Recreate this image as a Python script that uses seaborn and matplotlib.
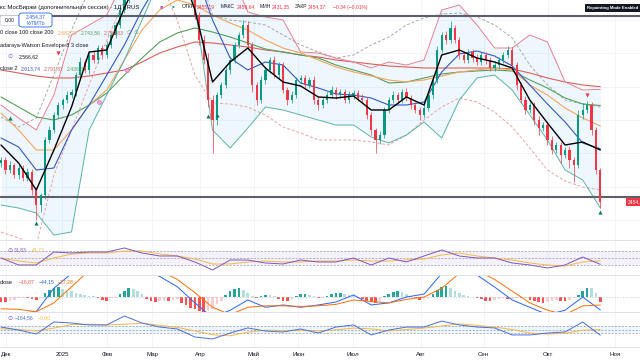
import numpy as np
import matplotlib
matplotlib.use('Agg')
import matplotlib.pyplot as plt
from matplotlib.patches import FancyBboxPatch, Rectangle
import seaborn as sns

# ============================================================
# DATA (~2 trading days per bar)
# ============================================================

MONTHS = ['Дек', '2025', 'Фев', 'Мар', 'Апр', 'Май', 'Июн', 'Июл', 'Авг', 'Сен', 'Окт', 'Ноя']
MONTH_BARS = [1.1, 13.9, 24.1, 34.3, 45.2, 57.3, 67.5, 79.8, 95.2, 109.5, 124.1, 139.3]

first_open = 2570
closes = [2580, 2550, 2565, 2535, 2556, 2526, 2544, 2490, 2445, 2475,
          2640, 2670, 2715, 2745, 2760, 2775, 2784, 2835, 2874, 2850,
          2895, 2880, 2916, 2895, 2925, 2955, 2985, 3030, 3060, 3120,
          3180, 3240, 3270, 3240, 3300, 3270, 3240, 3255, 3210, 3240,
          3180, 3210, 3150, 3105, 3015, 2940, 2880, 2760, 2700, 2775,
          2805, 2850, 2880, 2925, 2955, 2985, 2925, 2805, 2760, 2820,
          2850, 2880, 2835, 2865, 2790, 2760, 2775, 2820, 2826, 2805,
          2820, 2760, 2745, 2760, 2775, 2790, 2775, 2784, 2760, 2775,
          2781, 2766, 2760, 2715, 2670, 2640, 2655, 2730, 2760, 2775,
          2760, 2784, 2766, 2745, 2730, 2715, 2736, 2775, 2820, 2910,
          2955, 2940, 2976, 2940, 2895, 2880, 2904, 2886, 2874, 2895,
          2880, 2856, 2865, 2880, 2895, 2910, 2865, 2805, 2760, 2730,
          2745, 2700, 2676, 2685, 2640, 2610, 2625, 2595, 2610, 2580,
          2565, 2715, 2730, 2745, 2670, 2550, 2454.37]
wick_up = [10, 8, 12, 6, 10, 8, 12, 10, 8, 6,
           10, 12, 8, 10, 6, 12, 8, 10, 14, 8,
           10, 12, 8, 10, 12, 8, 10, 12, 10, 10,
           10, 10, 10, 10, 10, 10, 10, 10, 10, 10,
           10, 10, 10, 10, 12, 10, 15, 20, 15, 10,
           8, 10, 12, 8, 10, 15, 12, 10, 8, 12,
           10, 8, 12, 10, 8, 10, 12, 8, 10, 8,
           10, 12, 8, 10, 8, 12, 10, 8, 10, 12,
           8, 10, 12, 8, 10, 6, 12, 8, 10, 12,
           8, 10, 12, 8, 10, 8, 12, 10, 8, 12,
           10, 12, 20, 10, 8, 12, 10, 8, 12, 10,
           8, 10, 12, 8, 10, 12, 8, 10, 8, 12,
           10, 8, 12, 10, 8, 12, 10, 8, 10, 12,
           8, 15, 20, 12, 8, 10, 6]
wick_dn = [10, 12, 8, 10, 12, 8, 10, 15, 45, 20,
           12, 8, 10, 8, 12, 10, 8, 12, 10, 8,
           12, 10, 8, 12, 10, 8, 10, 8, 10, 10,
           10, 10, 10, 10, 10, 10, 10, 10, 10, 10,
           10, 10, 10, 10, 12, 15, 12, 20, 100, 15,
           10, 8, 12, 10, 8, 10, 12, 20, 15, 10,
           12, 10, 8, 12, 10, 15, 8, 10, 12, 10,
           8, 12, 15, 10, 8, 10, 12, 8, 10, 8,
           12, 10, 8, 12, 15, 39, 12, 10, 8, 10,
           12, 8, 10, 12, 10, 15, 8, 10, 12, 8,
           10, 12, 8, 10, 12, 8, 10, 12, 8, 10,
           12, 8, 10, 12, 8, 10, 12, 15, 10, 12,
           8, 15, 20, 10, 15, 12, 10, 25, 10, 25,
           50, 10, 12, 8, 15, 12, 18]

# indicator lines, one value every 4 bars
fast_ma = [2625, 2571, 2490, 2610, 2739, 2904, 2910, 3036, 3150, 3180, 3180, 3030,
           2814, 2874, 2916, 2856, 2814, 2802, 2769, 2766, 2772, 2730, 2730, 2769,
           2745, 2895, 2910, 2886, 2874, 2856, 2760, 2691, 2625, 2634, 2610]
bb_basis = [2646, 2619, 2550, 2556, 2670, 2745, 2835, 2925, 3030, 3120, 3210, 3150,
            3000, 2886, 2850, 2874, 2865, 2811, 2796, 2778, 2775, 2766, 2745, 2745,
            2754, 2844, 2898, 2907, 2892, 2862, 2805, 2748, 2694, 2631, 2613.74]
bb_upper = [2745, 2706, 2670, 2775, 2955, 2985, 3015, 3120, 3210, 3300, 3300, 3210,
            3180, 3150, 3024, 3009, 3000, 2904, 2901, 2886, 2874, 2856, 2874, 2865,
            2880, 3030, 3045, 2985, 2916, 2916, 2955, 2934, 2814, 2790, 2791.87]
bb_lower = [2445, 2436, 2421, 2355, 2364, 2670, 2775, 2880, 3000, 3120, 3180, 3045,
            2670, 2616, 2676, 2739, 2730, 2715, 2700, 2685, 2685, 2649, 2631, 2655,
            2694, 2646, 2760, 2826, 2835, 2790, 2715, 2640, 2550, 2520, 2436.31]
nw_upper = [2709, 2679, 2706, 2835, 2970, 3090, 3240, 3240, 3240, 3240, 3240, 3180,
            3015, 3000, 2994, 2985, 2955, 2925, 2904, 2886, 2895, 2925, 2949, 2985,
            3006, 3018, 3021, 3009, 2985, 2946, 2865, 2805, 2760, 2748, 2739]
nw_lower = [2364, 2346, 2325, 2535, 2670, 2805, 2940, 3060, 3180, 3120, 3000, 2835,
            2751, 2748, 2739, 2715, 2679, 2661, 2640, 2640, 2640, 2634, 2625, 2655,
            2700, 2739, 2766, 2754, 2724, 2679, 2616, 2550, 2517, 2499, 2490]
ma50 = [2721, 2670, 2610, 2610, 2670, 2745, 2790, 2880, 2970, 3030, 3060, 3045,
        3015, 2991, 2970, 2940, 2916, 2901, 2880, 2859, 2844, 2832, 2820, 2814,
        2820, 2832, 2844, 2850, 2856, 2850, 2805, 2775, 2736, 2706, 2682.22]
ma100 = [2769, 2739, 2709, 2700, 2715, 2745, 2781, 2835, 2886, 2934, 2961, 2976,
         2964, 2949, 2931, 2913, 2904, 2895, 2886, 2865, 2850, 2835, 2811, 2814,
         2826, 2838, 2844, 2847, 2850, 2847, 2820, 2796, 2766, 2748, 2743.56]
ma200 = [2850, 2841, 2832, 2826, 2826, 2832, 2841, 2850, 2874, 2901, 2919, 2934,
         2931, 2925, 2919, 2910, 2904, 2895, 2889, 2880, 2874, 2868, 2862, 2859,
         2856, 2856, 2856, 2856, 2856, 2853, 2841, 2826, 2814, 2805, 2799.83]

level_lines = [3012, 2469]
buy_bars = [2, 8, 47, 49, 136]
buy_prices = [2706, 2390, 2712, 2715, 2425]
sell_bars = [13, 133]
sell_prices = [2901, 2775]
cross_bars = [22.3, 28.6]
cross_prices = [2754, 2850]

rsi = [50.0, 30.0, 30.0, 67.1, 64.3, 67.1, 67.1, 78.6, 64.3, 55.7, 55.7, 38.6,
       15.7, 44.3, 44.3, 35.7, 32.9, 44.3, 38.6, 38.6, 50.0, 30.0, 50.0, 38.6,
       55.7, 72.9, 55.7, 50.0, 50.0, 35.7, 30.0, 21.4, 30.0, 52.9, 31.83]
rsi_ma = [50.0, 41.4, 35.7, 50.0, 61.4, 64.3, 64.3, 70.0, 70.0, 61.4, 55.7, 47.1,
          32.9, 32.9, 38.6, 41.4, 38.6, 38.6, 41.4, 41.4, 44.3, 41.4, 41.4, 44.3,
          47.1, 58.6, 64.3, 55.7, 50.0, 44.3, 35.7, 30.0, 27.1, 38.6, 41.77]

macd = [-60, -55, -50, 30, 80, 100, 90, 100, 100, 70, 35, -20,
        -70, -45, -10, -35, -27, -35, -27, -17, 7, -27, -20, 0,
        10, 80, 100, 75, 34, -10, -35, -60, -45, 0, -44.15]
macd_signal = [-40, -42, -50, -20, 35, 90, 100, 100, 100, 90, 60, 15,
               -35, -60, -35, -30, -30, -32, -30, -25, -10, -15, -20, -8,
               0, 30, 80, 90, 60, 20, -20, -45, -60, -30, -27.28]
macd_hist = [-17, -17, -14, -10, -5, -3, -3, -7, -10, -3,
             15, 25, 32, 34, 28, 24, 20, 15, 10, 6,
             4, 2, -5, -9, -12, -4, -2, 12, 22, 30,
             28, 20, 10, -8, -14, -16, -14, -12, -13, -10,
             -8, -20, -28, -36, -42, -46, -50, -48, -40, -25,
             -12, 8, 20, 28, 30, 25, 15, 5, -4, 4,
             8, 6, 3, -6, -12, -14, -6, 5, 10, 12,
             8, 2, -3, -2, 5, 12, 14, 15, 12, 8,
             3, -5, -8, -14, -18, -20, -12, 4, 12, 18,
             20, 16, 10, 3, -5, -9, -8, -3, 10, 25,
             35, 37, 30, 22, 15, 8, 4, 1, -2, -8,
             -12, -14, -10, -7, -5, -8, -6, -3, -5, -2,
             -10, -15, -18, -20, -16, -12, -10, -12, -14, -10,
             -4, 8, 20, 32, 30, 15, -16.87]

cci = [70, -15, -130, 215, 185, 130, 130, 385, 185, 70, 15, -215,
       -270, -100, 45, -45, -70, 15, -100, 70, 130, -155, -15, 70,
       70, 240, 130, 70, 45, -155, -155, -100, -70, 215, -164.56]
cci_ma = [20, 0, -40, 40, 140, 150, 130, 150, 180, 120, 60, -40,
          -150, -180, -80, -20, -30, -30, -40, -10, 40, 20, -40, 0,
          40, 100, 160, 120, 70, 0, -100, -130, -110, -20, -0.6]

bars = np.arange(len(closes))
line_bars = np.arange(0, len(closes), 4)

# ============================================================
# STYLE
# ============================================================
sns.set_theme(style='white')
plt.rcParams['font.family'] = ['Liberation Sans', 'DejaVu Sans']

UP, DOWN = '#089981', '#f23645'
TXT = '#131722'
GRID = '#f0f3fa'
W, H = 640, 360

fig = plt.figure(figsize=(6.4, 3.6), dpi=100)


def panel(top, bottom):
    return fig.add_axes([0, 1 - bottom / H, 1, (bottom - top) / H])


ax_p = panel(0, 240)
ax_r = panel(240, 275)
ax_m = panel(275, 312)
ax_c = panel(312, 347)

for ax in (ax_p, ax_r, ax_m, ax_c):
    ax.set_xlim(-0.23, 145.0)
    ax.set_xticks(MONTH_BARS)
    ax.tick_params(length=0, labelbottom=False, labelleft=False)
    ax.grid(True, color=GRID, lw=0.6)
    ax.set_axisbelow(True)
    for s in ax.spines.values():
        s.set_visible(False)
    ax.set_facecolor('none')

# ============================================================
# PRICE PANEL
# ============================================================
ax = ax_p
ax.set_ylim(2340, 3060)
ax.set_yticks(np.arange(2400, 3060, 100))

ax.fill_between(line_bars, bb_lower, bb_upper, color='#2196f3', alpha=0.07, lw=0, zorder=1)
sns.lineplot(x=line_bars, y=nw_upper, ax=ax, color='#a3abab', lw=0.7, linestyle=(0, (3, 2)), zorder=2)
sns.lineplot(x=line_bars, y=nw_lower, ax=ax, color='#e8a3a3', lw=0.7, linestyle=(0, (3, 2)), zorder=2)
sns.lineplot(x=line_bars, y=ma200, ax=ax, color='#dc5f5a', lw=0.8, zorder=2)
sns.lineplot(x=line_bars, y=ma100, ax=ax, color='#55a05a', lw=0.8, zorder=2)
sns.lineplot(x=line_bars, y=ma50, ax=ax, color='#f4a55e', lw=0.8, zorder=2)
sns.lineplot(x=line_bars, y=bb_upper, ax=ax, color='#e58090', lw=0.7, zorder=2)
sns.lineplot(x=line_bars, y=bb_lower, ax=ax, color='#5bb5a2', lw=0.7, zorder=2)
sns.lineplot(x=line_bars, y=bb_basis, ax=ax, color='#3358c4', lw=0.8, zorder=2)

for lvl in level_lines:
    ax.axhline(lvl, color='#5d606b', lw=1.5, zorder=2.5)

opens = np.array([first_open] + closes[:-1])
c = np.array(closes)
hi = np.maximum(opens, c) + np.array(wick_up)
lo = np.minimum(opens, c) - np.array(wick_dn)
col = np.where(c >= opens, UP, DOWN)
ax.vlines(bars, lo, hi, colors=col, lw=0.5, zorder=3)
ax.bar(bars, np.abs(c - opens), bottom=np.minimum(opens, c), width=0.5,
       color=col, lw=0, zorder=3)

sns.lineplot(x=line_bars, y=fast_ma, ax=ax, color='black', lw=1.0, zorder=4)

ax.scatter(buy_bars, buy_prices, marker='^', s=9, color='#0b7d62', lw=0, zorder=5)
ax.scatter(sell_bars, sell_prices, marker='v', s=9, color=DOWN, lw=0, zorder=5)
ax.scatter(cross_bars, cross_prices, marker='o', s=8, facecolor='#f3a7d8',
           edgecolor='#d05bb0', lw=0.4, zorder=5)

ax.text(142.3, closes[-1], '2454,37', color='white', fontsize=3.6, ha='left', va='center',
        clip_on=False, zorder=6,
        bbox=dict(boxstyle='square,pad=0.35', fc=DOWN, ec='none'))

# ============================================================
# RSI
# ============================================================
ax = ax_r
ax.set_ylim(1.4, 101.4)
ax.set_yticks([])
ax.axhspan(30, 70, color='#7e57c2', alpha=0.08, lw=0)
for lvl in (70, 50, 30):
    ax.axhline(lvl, color='#9598a1', lw=0.5, linestyle=(0, (3, 2)))
sns.lineplot(x=line_bars, y=rsi_ma, ax=ax, color='#f5b942', lw=0.7)
sns.lineplot(x=line_bars, y=rsi, ax=ax, color='#7e57c2', lw=0.7)

# ============================================================
# MACD
# ============================================================
ax = ax_m
ax.set_ylim(-51, 75)
ax.set_yticks([])
ax.axhline(0, color='#c3c6ce', lw=0.5, linestyle=(0, (2, 2)))
hcols = []
for i, h in enumerate(macd_hist):
    prev = macd_hist[i - 1] if i else h
    if h >= 0:
        hcols.append('#26a69a' if h >= prev else '#b2dfdb')
    else:
        hcols.append('#ff5252' if h <= prev else '#ffcdd2')
ax.bar(bars, macd_hist, width=0.6, color=hcols, lw=0)
sns.lineplot(x=line_bars, y=macd, ax=ax, color='#2962ff', lw=0.7)
sns.lineplot(x=line_bars, y=macd_signal, ax=ax, color='#ff6d00', lw=0.7)

# ============================================================
# CCI
# ============================================================
ax = ax_c
ax.set_ylim(-500, 500)
ax.set_yticks([])
ax.axhspan(-100, 100, color='#2196f3', alpha=0.08, lw=0)
for lvl in (100, 0, -100):
    ax.axhline(lvl, color='#9598a1', lw=0.5, linestyle=(0, (3, 2)))
sns.lineplot(x=line_bars, y=cci_ma, ax=ax, color='#f5b942', lw=0.7)
sns.lineplot(x=line_bars, y=cci, ax=ax, color='#4a6fe0', lw=0.7)

ax.set_xticks(MONTH_BARS)
ax.set_xticklabels(MONTHS)
ax.tick_params(labelbottom=True, labelsize=4.4, labelcolor=TXT, pad=3.5)

# panel separators
for y in (240, 275, 312, 347):
    fig.add_artist(plt.Line2D([0, 1], [1 - y / H] * 2, transform=fig.transFigure,
                              color='#e0e3eb', lw=0.7))

# ============================================================
# LEGENDS / OVERLAY TEXT
# ============================================================
NUM = 3.7


def ftext(x, y, s, color=TXT, size=NUM, **kw):
    fig.text(x / W, 1 - y / H, s, color=color, fontsize=size, ha='left', va='center', **kw)


ftext(0, 7, 'кс МосБиржи (дополнительная сессия) · 1Д · RUS', size=4.3)
ftext(160, 7, '■', color='#ba68c8', size=4)
ftext(172, 7, '●', color='#089981', size=3.4)
for x, s, colr in [(182, 'ОТКР', TXT), (197, '2455,19', DOWN), (221, 'МАКС', TXT),
                   (237, '2459,64', DOWN), (260, 'МИН', TXT), (272, '2431,35', DOWN),
                   (295, 'ЗАКР', TXT), (308, '2454,37', DOWN), (333, '−0,34 (−0,01%)', DOWN)]:
    ftext(x, 7, s, color=colr, size=3.6)

fig.patches.append(Rectangle((0, 1 - 25 / H), 18 / W, 10 / H, transform=fig.transFigure,
                             fc='white', ec='#d1d4dc', lw=0.5, zorder=5))
ftext(5, 20, '0,00', size=3.6, zorder=6)
fig.patches.append(FancyBboxPatch((19 / W, 1 - 27 / H), 33 / W, 14 / H,
                                  boxstyle='round,pad=0,rounding_size=0.006',
                                  transform=fig.transFigure, fc='white', ec='#2962ff',
                                  lw=0.6, zorder=5))
fig.text(35.5 / W, 1 - 16.5 / H, '2.454,37', color='#2962ff', fontsize=3.7,
         ha='center', va='center', zorder=6)
fig.text(35.5 / W, 1 - 23.5 / H, 'КУПИТЬ', color='#2962ff', fontsize=3.4,
         ha='center', va='center', zorder=6)

ftext(0, 33, '0 close 100 close 200', size=4.0)
ftext(58, 33, '2.682,22', color='#f4a55e')
ftext(81, 33, '2.743,56', color='#55a05a')
ftext(104, 33, '2.799,83', color='#dc5f5a')
ftext(127, 33, '∅  ∅', color='#787b86')
ftext(0, 45, 'adaraya-Watson Envelope 8 3 close', size=4.0)
ftext(7, 57, '⊙', color='#7e57c2', size=4.4)
ftext(19, 57, '2.566,62')
ftext(0, 69, 'close 2', size=4.0)
ftext(21, 69, '2.613,74', color='#3358c4')
ftext(44, 69, '2.791,87', color='#dc5f5a')
ftext(67, 69, '2.436,31', color='#55a05a')

fig.text(613 / W, 1 - 8 / H, 'Repainting Mode Enabled', color='white', fontsize=3.1,
         weight='bold', ha='center', va='center',
         bbox=dict(boxstyle='square,pad=0.5', fc='#131722', ec='none'))

ftext(7, 250, '⊙', color='#7e57c2', size=4.4)
ftext(14, 250, '31,83', color='#7e57c2')
ftext(32, 250, '41,77', color='#f5b942')

ftext(0, 282, 'close', size=4.0)
ftext(19, 282, '−16,87', color='#ff5252')
ftext(39, 282, '−44,15', color='#2962ff')
ftext(58, 282, '−27,28', color='#ff6d00')

ftext(7, 318, '⊙', color='#7e57c2', size=4.4)
ftext(15, 318, '−164,56', color='#4a6fe0')
ftext(38, 318, '−0,60', color='#f5b942')

fig.savefig('out.png', dpi=100)
